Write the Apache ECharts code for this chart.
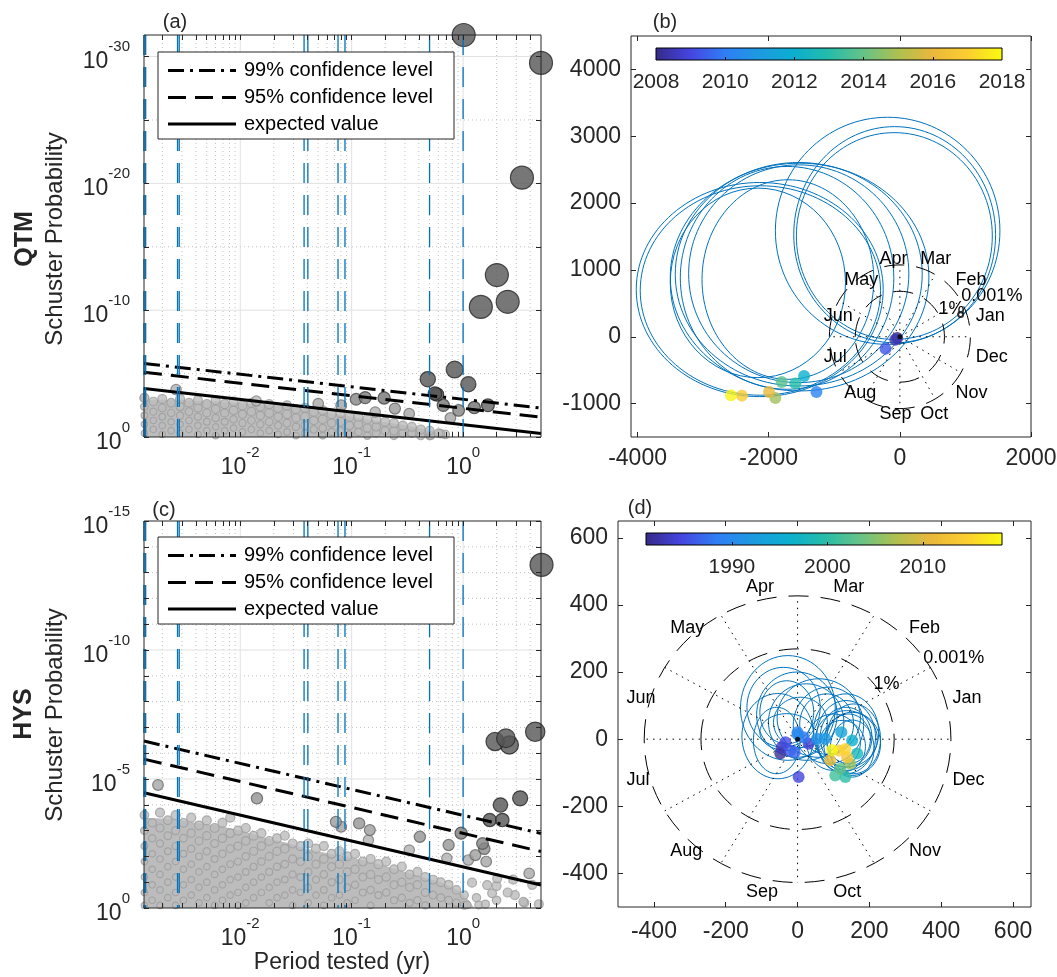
<!DOCTYPE html>
<html>
<head>
<meta charset="utf-8">
<script src="https://cdn.jsdelivr.net/npm/echarts@6.0.0/dist/echarts.min.js"></script>
<style>html,body{margin:0;padding:0;background:#fff;}#chart{width:1057px;height:977px;}</style>
</head>
<body>
<div id="chart"></div>
<script>
// ================= DATA =================
// (a),(c): x = log10(period tested, yr); y = -log10(Schuster probability)
const tidalPeriodsYr = [0.001369, 0.001417, 0.002738, 0.002834, 0.0374, 0.04044, 0.07543, 0.08709, 0.5, 1.0];
const logPeriodRange = [-2.8636, 0.699];
const qtmExpRange = [0, 31.7];
const hysExpRange = [0, 15];

const qtmExpected = [[-2.8636, 3.82], [0.699, 0.27]];
const qtm95 = [[-2.8636, 5.10], [0.699, 1.57]];
const qtm99 = [[-2.8636, 5.80], [0.699, 2.28]];
const hysExpected = [[-2.8636, 4.47], [0.699, 0.89]];
const hys95 = [[-2.8636, 5.77], [0.699, 2.19]];
const hys99 = [[-2.8636, 6.47], [0.699, 2.89]];

// upper edge of the dense cloud of non-significant periods
const qtmCloudTop = [[-2.8636,2.9],[-2.5,2.9],[-2.2,2.8],[-1.9,2.6],[-1.6,2.4],[-1.4,2.2],[-1.2,1.9],[-1.0,1.6],[-0.8,1.3],[-0.6,1.05],[-0.45,0.8],[-0.3,0.5],[-0.2,0.2],[-0.15,0]];
const hysCloudTop = [[-2.8636,3.5],[-2.6,3.45],[-2.4,3.3],[-2.2,3.2],[-2.0,3.0],[-1.8,2.75],[-1.6,2.55],[-1.4,2.3],[-1.2,2.1],[-1.0,1.95],[-0.8,1.75],[-0.6,1.5],[-0.4,1.25],[-0.2,1.0],[-0.05,0.7],[0.05,0.3],[0.1,0]];

// cloud points, by column: [log10 period, [exponents]]
const qtmCloudColumns = [
[-2.86,[3.1,2.4,1.7,1.0,0.3]],[-2.78,[2.8,2.0,1.3,0.6]],[-2.70,[3.0,2.3,1.6,0.9,0.2]],[-2.62,[2.7,1.9,1.2,0.5]],
[-2.54,[3.0,2.4,1.7,1.0,0.3]],[-2.46,[2.7,2.0,1.3,0.6]],[-2.38,[2.9,2.3,1.6,0.9,0.2]],[-2.30,[2.6,1.9,1.2,0.5]],
[-2.22,[2.9,2.2,1.5,0.8,0.1]],[-2.14,[2.6,1.9,1.2,0.5]],[-2.06,[2.8,2.1,1.4,0.7]],[-1.98,[2.5,1.8,1.1,0.4]],
[-1.90,[2.7,2.0,1.3,0.6]],[-1.82,[2.4,1.7,1.0,0.3]],[-1.74,[2.6,1.9,1.2,0.5]],[-1.66,[2.3,1.6,0.9,0.2]],
[-1.58,[2.5,1.8,1.1,0.4]],[-1.50,[2.2,1.5,0.8,0.1]],[-1.42,[2.3,1.6,0.9,0.3]],[-1.34,[2.0,1.3,0.6]],
[-1.26,[2.1,1.4,0.7,0.1]],[-1.18,[1.8,1.1,0.4]],[-1.10,[1.9,1.2,0.5]],[-1.02,[1.6,0.9,0.2]],
[-0.94,[1.6,1.0,0.4]],[-0.86,[1.4,0.7,0.1]],[-0.78,[1.4,0.8,0.3]],[-0.70,[1.2,0.5]],
[-0.62,[1.1,0.5,0.1]],[-0.54,[0.9,0.3]],[-0.46,[0.8,0.3]],[-0.38,[0.6,0.1]],
[-0.30,[0.5,0.1]],[-0.22,[0.3]],[-0.16,[0.2]]
];
const hysCloudColumns = [
[-2.86,[3.6,3.0,2.4,1.8,1.2,0.6,0.1]],[-2.79,[3.3,2.7,2.1,1.5,0.9,0.3]],[-2.72,[3.7,3.1,2.5,1.9,1.3,0.7,0.1]],
[-2.65,[3.4,2.8,2.2,1.6,1.0,0.4]],[-2.58,[3.6,3.0,2.4,1.8,1.2,0.6,0.1]],[-2.51,[3.3,2.7,2.1,1.5,0.9,0.3]],
[-2.44,[3.5,2.9,2.3,1.7,1.1,0.5]],[-2.37,[3.2,2.6,2.0,1.4,0.8,0.2]],[-2.30,[3.4,2.8,2.2,1.6,1.0,0.4]],
[-2.23,[3.1,2.5,1.9,1.3,0.7,0.1]],[-2.16,[3.3,2.7,2.1,1.5,0.9,0.3]],[-2.09,[3.5,2.9,2.3,1.7,1.1,0.5]],
[-2.02,[3.0,2.4,1.8,1.2,0.6,0.1]],[-1.95,[3.1,2.6,2.0,1.4,0.8,0.2]],[-1.88,[2.8,2.2,1.6,1.0,0.4]],
[-1.81,[2.9,2.4,1.8,1.2,0.6]],[-1.74,[2.6,2.0,1.4,0.8,0.2]],[-1.67,[2.7,2.2,1.6,1.0,0.4]],
[-1.60,[2.8,2.3,1.7,1.1,0.5]],[-1.53,[2.5,1.9,1.3,0.7,0.1]],[-1.46,[2.4,1.8,1.2,0.6]],
[-1.39,[2.5,2.0,1.4,0.8,0.2]],[-1.32,[2.3,1.7,1.1,0.5]],[-1.25,[2.4,1.9,1.3,0.7,0.1]],
[-1.18,[2.1,1.6,1.0,0.4]],[-1.11,[2.2,1.7,1.1,0.5]],[-1.04,[2.0,1.4,0.8,0.2]],
[-0.97,[2.1,1.5,0.9,0.3]],[-0.90,[1.8,1.2,0.6]],[-0.83,[1.9,1.3,0.7,0.1]],
[-0.76,[1.7,1.1,0.5]],[-0.69,[1.8,1.2,0.6]],[-0.62,[1.5,0.9,0.3]],
[-0.55,[1.6,1.0,0.4]],[-0.48,[1.3,0.8,0.2]],[-0.41,[1.4,0.9,0.3]],
[-0.34,[1.2,0.6,0.1]],[-0.27,[1.1,0.5]],[-0.20,[1.0,0.4]],
[-0.13,[0.9,0.3]],[-0.06,[0.7,0.2]],[0.01,[0.5,0.1]],
[0.12,[0.4]],[0.20,[0.15]],[0.30,[0.85,0.3]],[0.40,[0.6]],[0.45,[1.1]],[0.55,[0.2]],[0.62,[0.9]],[0.68,[0.15]]
];
// individually readable periods (above the cloud)
const qtmNotable = [
[0.005,31.7],[0.699,29.5],[0.528,20.45],[0.303,12.77],[0.159,10.26],[0.40,10.66],
[-0.076,5.32],[-0.317,4.56],[0.047,4.16],[-0.253,3.42],[-0.235,3.35],[-0.178,2.5],[0.223,2.5],[0.10,2.32],
[-0.96,2.98],[-0.879,3.11],[-0.709,3.08],
[-2.576,3.74],[-2.86,3.08],[-1.856,2.84],[-1.30,2.63],[-1.094,2.5],[-0.612,2.24],[-0.484,1.84],
[-0.789,1.97],[-0.114,1.5],[-0.04,2.1],[-0.204,0.27],[-0.29,0.13]
];
const hysNotable = [
[0.704,13.3],[0.647,6.83],[0.287,6.45],[0.384,6.58],[0.415,6.32],[0.512,4.25],[0.335,3.99],
[0.239,3.41],[0.352,3.41],[-0.018,2.9],[0.174,2.5],[0.19,2.3],[-0.388,2.76],[-0.933,3.28],
[-0.837,3.02],[-1.142,3.34],[-1.094,3.15],[-1.85,4.25],[-2.738,4.77],[-0.85,2.63],[-0.483,2.25],
[-0.146,1.93],[0.047,1.86],[0.11,2.05],[0.207,1.8],[0.593,1.34],[-0.13,2.44],[0.306,1.15],
[0.216,0.89],[0.08,0.98],[0.26,0.57],[0.464,0.5],[0.54,0.24],[0.14,0.12],[0.036,0.12]
];

// (b),(d): phasor walks. Yearly loops [cx, cy, rx, ry] and year-end positions
const qtmLoops = [
[-186,1585,1712,1699],[-79,1527,1539,1617],[-84,1507,1494,1547],[-1529,893,1972,1704],
[-1542,935,1883,1672],[-1542,943,1679,1629],[-1707,856,1310,1493],[-2137,706,1883,1602],
[-2127,692,1832,1567],[-2165,806,1336,1418],[-1720,881,1628,1667]
];
const qtmDots = [[-40,-20],[-70,-45],[-219,-179],[-1272,-826],[-1461,-587],[-1593,-701],[-1802,-677],[-1898,-915],[-1995,-826],[-2407,-881],[-2575,-876]];
const qtmDotYears = [2008.0,2008.5,2009.3,2010.2,2012.0,2013.0,2013.8,2014.8,2016.0,2016.8,2017.8];
const qtmMarker = [927, 333];

const hysLoops = [
[-27,93,132,156],[-39,95,102,119],[-2,73,112,127],[-30,80,75,94],[24,51,105,114],[8,50,75,75],
[-58,-4,65,99],[-30,21,75,55],[-55,9,100,127],[59,63,116,117],[86,41,98,114],[81,45,75,90],
[135,21,91,114],[135,6,82,109],[135,6,72,89],[152,-14,79,94],[142,1,61,74],[124,-21,65,77],
[136,1,86,84],[156,1,75,104],[100,-9,75,84],[152,-28,61,85]
];
const hysDots = [[-48,-43],[31,-14],[-44,-24],[3,-113],[-34,-9],[-20,-34],[-8,-39],[17,6],[0,21],[0,14],[54,1],[77,1],[122,21],[152,-4],[166,-43],[133,-113],[105,-108],[119,-88],[147,-73],[91,-63],[138,-54],[115,-34],[133,-29],[96,-32]];
const hysDotYears = [1981.5,1984,1983,1984.5,1985,1986,1987,1988,1989,1990,1991,1992,1994,1996,1998,2000,2001,2003,2006,2012,2013,2014,2015,2017.8];

const qtmYearRange = [2008, 2018];
const hysYearRange = [1981, 2018.3];
const qtmCbLabels = [2008,2010,2012,2014,2016,2018];
const hysCbLabels = [1990,2000,2010];

const months = ['Jan','Feb','Mar','Apr','May','Jun','Jul','Aug','Sep','Oct','Nov','Dec'];
const qtmClock = {r1:680, r2:1075, labelR:1200};   // 1% and 0.001% radii
const hysClock = {r1:269, r2:427, labelR:470};

const legendItems = [
  {label:'99% confidence level', dash:[16,6,3,6]},
  {label:'95% confidence level', dash:[18,9]},
  {label:'expected value', dash:null}
];

// ================= STYLE / HELPERS =================
const FONT = "'Liberation Sans', Arial, Helvetica, sans-serif";
const TXT = '#262626';
const parulaStops = ['#352a87','#4545e0','#2f7ef5','#1d9ae0','#0bafcf','#26bcaa','#66c387','#aec050','#eab83b','#fcce31','#f9fb0e'];
function hex2rgb(h){return [1,3,5].map(i=>parseInt(h.substr(i,2),16));}
function parula(t){
  t=Math.max(0,Math.min(1,t)); const n=parulaStops.length-1;
  const i=Math.min(n-1,Math.floor(t*n)); const f=t*n-i;
  const a=hex2rgb(parulaStops[i]), b=hex2rgb(parulaStops[i+1]);
  return 'rgb('+a.map((v,k)=>Math.round(v+(b[k]-v)*f)).join(',')+')';
}
function expectedAt(line,x){const a=line[0],b=line[1];return a[1]+(b[1]-a[1])*(x-a[0])/(b[0]-a[0]);}
function g2hex(g){const h=Math.round(g).toString(16).padStart(2,'0');return '#'+h+h+h;}
function expand(cols){return cols.flatMap(c=>c[1].map(y=>[c[0],y]));}
function scatterItems(points,line){
  return points.map(p=>{
    const rel=p[1]-expectedAt(line,p[0]); let size,fill,edge;
    if(rel<=0){size=Math.max(6.5,Math.min(9,10+1.6*rel));fill='#bbbbbb';edge='#9e9e9e';}
    else{size=Math.min(23,10+1.6*rel);const g=Math.max(85,186-50*rel);fill=g2hex(g);edge=g2hex(Math.max(38,g-55));}
    return {value:[p[0],p[1]],symbolSize:size,itemStyle:{color:fill,borderColor:edge,borderWidth:1.2},rel};
  }).sort((a,b)=>a.rel-b.rel).map(o=>{delete o.rel;return o;});
}
const xMajorLog=[-2,-1,0];
const xMinorLog=[];
[-3,-2,-1,0].forEach(n=>{for(let k=2;k<=9;k++){const v=n+Math.log10(k);if(v>logPeriodRange[0]+1e-3&&v<logPeriodRange[1]-1e-3)xMinorLog.push(v);}});
const logRich={
  b:{fontSize:23,fontFamily:FONT,color:TXT,lineHeight:34,verticalAlign:'bottom'},
  s:{fontSize:15,fontFamily:FONT,color:TXT,lineHeight:14,verticalAlign:'top'}
};
const fmtX=v=>'{b|10}{s|'+Math.round(v)+'}';
const fmtY=v=>'{b|10}{s|'+(Math.round(v)===0?'0':'-'+Math.round(v))+'}';
const fmtPlain=v=>String(Math.round(v));
const noLine={show:false,onZero:false};

function xPair(g,min,max,ticks,labels,fmt,rich,margin,fs){
  const base={gridIndex:g,type:'value',min,max,z:6,axisLine:noLine,splitLine:{show:false},minorSplitLine:{show:false}};
  return [
    Object.assign({},base,{position:'bottom',axisTick:{show:true,inside:true,length:5,customValues:ticks,lineStyle:{color:TXT}},
      axisLabel:{show:true,customValues:labels,formatter:fmt,rich:rich,color:TXT,fontSize:fs||23,fontFamily:FONT,margin:margin}}),
    Object.assign({},base,{position:'top',axisTick:{show:true,inside:true,length:5,customValues:ticks,lineStyle:{color:TXT}},axisLabel:{show:false}})
  ];
}
function yPair(g,min,max,ticks,labels,fmt,rich,margin){
  const base={gridIndex:g,type:'value',min,max,z:6,axisLine:noLine,splitLine:{show:false},minorSplitLine:{show:false}};
  return [
    Object.assign({},base,{position:'left',axisTick:{show:true,inside:true,length:5,customValues:ticks,lineStyle:{color:TXT}},
      axisLabel:{show:true,customValues:labels,formatter:fmt,rich:rich,color:TXT,fontSize:23,fontFamily:FONT,margin:margin}}),
    Object.assign({},base,{position:'right',axisTick:{show:true,inside:true,length:5,customValues:ticks,lineStyle:{color:TXT}},axisLabel:{show:false}})
  ];
}
function range(a,b,s){const r=[];for(let v=a;v<=b+1e-9;v+=s)r.push(Math.round(v*1000)/1000);return r;}

function gridSeries(ax,yMajor,yMinor){
  return {type:'custom',xAxisIndex:ax,yAxisIndex:ax,z:0,silent:true,clip:false,data:[[0,0]],
    renderItem:(params,api)=>{
      const cs=params.coordSys,ch=[];
      const minor={stroke:'#c2c2c2',lineWidth:1,lineDash:[1,3]},major={stroke:'#e1e1e1',lineWidth:1};
      xMinorLog.forEach(v=>{const x=api.coord([v,0])[0];ch.push({type:'line',shape:{x1:x,y1:cs.y,x2:x,y2:cs.y+cs.height},style:minor});});
      yMinor.forEach(v=>{const y=api.coord([0,v])[1];ch.push({type:'line',shape:{x1:cs.x,y1:y,x2:cs.x+cs.width,y2:y},style:minor});});
      xMajorLog.forEach(v=>{const x=api.coord([v,0])[0];ch.push({type:'line',shape:{x1:x,y1:cs.y,x2:x,y2:cs.y+cs.height},style:major});});
      yMajor.forEach(v=>{const y=api.coord([0,v])[1];ch.push({type:'line',shape:{x1:cs.x,y1:y,x2:cs.x+cs.width,y2:y},style:major});});
      return {type:'group',children:ch};
    }};
}
function tidalSeries(ax){
  return {type:'custom',xAxisIndex:ax,yAxisIndex:ax,z:4,silent:true,clip:false,data:[[0,0]],
    renderItem:(params,api)=>{
      const cs=params.coordSys;
      return {type:'group',children:tidalPeriodsYr.map(p=>{
        const x=api.coord([Math.log10(p),0])[0];
        return {type:'line',shape:{x1:x,y1:cs.y,x2:x,y2:cs.y+cs.height},style:{stroke:'#0072BD',lineWidth:1.3,lineDash:[20,12]}};
      })};
    }};
}
function envelopeSeries(ax,data){
  return {type:'line',xAxisIndex:ax,yAxisIndex:ax,data,symbol:'none',silent:true,z:1,
    lineStyle:{width:0,color:'#bcbcbc'},areaStyle:{color:'#bcbcbc',opacity:1}};
}
function thresholdSeries(ax,data,dash){
  return {type:'line',xAxisIndex:ax,yAxisIndex:ax,data,symbol:'none',silent:true,z:3,
    lineStyle:{color:'#000',width:3,type:dash||'solid'}};
}
function scatterSeries(ax,items){
  return {type:'scatter',xAxisIndex:ax,yAxisIndex:ax,data:items,silent:true,z:2,clip:false,symbol:'circle'};
}
function loopsSeries(ax,loops){
  return {type:'custom',xAxisIndex:ax,yAxisIndex:ax,z:2,silent:true,clip:false,data:[[0,0]],
    renderItem:(params,api)=>({type:'group',children:loops.map(l=>{
      const c=api.coord([l[0],l[1]]);const s=api.size([2*l[2],2*l[3]]);
      return {type:'ellipse',shape:{cx:c[0],cy:c[1],rx:s[0]/2,ry:s[1]/2},style:{fill:'none',stroke:'#0072BD',lineWidth:1}};
    })})};
}
function clockSeries(ax,clk,labelDx){
  return {type:'custom',xAxisIndex:ax,yAxisIndex:ax,z:3,silent:true,clip:false,data:[[0,0]],
    renderItem:(params,api)=>{
      const c=api.coord([0,0]),ch=[];
      for(let k=0;k<12;k++){const a=k*Math.PI/6;const p=api.coord([clk.r2*Math.cos(a),clk.r2*Math.sin(a)]);
        ch.push({type:'line',shape:{x1:c[0],y1:c[1],x2:p[0],y2:p[1]},style:{stroke:'#000',lineWidth:1,lineDash:[1.5,5]}});}
      [clk.r1,clk.r2].forEach(r=>{const s=api.size([2*r,2*r]);
        ch.push({type:'ellipse',shape:{cx:c[0],cy:c[1],rx:s[0]/2,ry:s[1]/2},style:{fill:'none',stroke:'#000',lineWidth:1,lineDash:[20,12]}});});
      months.forEach((m,k)=>{const a=(15+30*k)*Math.PI/180;const p=api.coord([clk.labelR*Math.cos(a),clk.labelR*Math.sin(a)]);
        ch.push({type:'text',x:p[0]+labelDx,y:p[1],style:{text:m,fill:'#000',fontSize:18,fontFamily:FONT,align:'left',verticalAlign:'middle'}});});
      [['1%',clk.r1*1.06,35],['0.001%',clk.r2*1.04,33]].forEach(t=>{const a=t[2]*Math.PI/180;const p=api.coord([t[1]*Math.cos(a),t[1]*Math.sin(a)]);
        ch.push({type:'text',x:p[0]+labelDx,y:p[1],style:{text:t[0],fill:'#000',fontSize:18,fontFamily:FONT,align:'left',verticalAlign:'middle'}});});
      return {type:'group',children:ch};
    }};
}
function dotsSeries(ax,dots,years,yr){
  return {type:'scatter',xAxisIndex:ax,yAxisIndex:ax,z:4,silent:true,clip:false,symbolSize:12,
    data:dots.map((d,i)=>({value:d,itemStyle:{color:parula((years[i]-yr[0])/(yr[1]-yr[0]))}})).map((o,i)=>({o,y:years[i]})).sort((a,b)=>a.y-b.y).map(x=>x.o)};
}
function originSeries(ax){
  return {type:'scatter',xAxisIndex:ax,yAxisIndex:ax,z:5,silent:true,symbolSize:5,data:[[0,0]],itemStyle:{color:'#000'}};
}
function colorbarSeries(ax,yr){
  return {type:'custom',xAxisIndex:ax,yAxisIndex:ax,z:1,silent:true,clip:false,data:[[yr[0],0]],
    renderItem:(params,api)=>{
      const p0=api.coord([yr[0],1]),p1=api.coord([yr[1],0]);
      const stops=parulaStops.map((c,i)=>({offset:i/(parulaStops.length-1),color:c}));
      return {type:'rect',shape:{x:p0[0],y:p0[1],width:p1[0]-p0[0],height:p1[1]-p0[1]},
        style:{fill:new echarts.graphic.LinearGradient(0,0,1,0,stops),stroke:'#000',lineWidth:1}};
    }};
}

// ================= LAYOUT =================
const gridBase={show:true,z:10,backgroundColor:'rgba(0,0,0,0)',borderColor:TXT,borderWidth:1,containLabel:false,outerBoundsMode:'none'};
const grids=[
  Object.assign({},gridBase,{left:144,top:35,width:397,height:402}),   // a
  Object.assign({},gridBase,{left:631,top:36,width:400,height:401}),   // b
  Object.assign({},gridBase,{left:144,top:521,width:397,height:387}),  // c
  Object.assign({},gridBase,{left:618,top:521,width:413,height:386}),  // d
  {show:false,left:656,top:48,width:346,height:12,outerBoundsMode:'none'},  // colorbar b
  {show:false,left:646,top:533,width:356,height:12,outerBoundsMode:'none'}  // colorbar d
];
const xTicksLog=xMajorLog.concat(xMinorLog);
const xAxes=[].concat(
  xPair(0,logPeriodRange[0],logPeriodRange[1],xTicksLog,xMajorLog,fmtX,logRich,8),
  xPair(1,-4100,2000,[-4000,-2000,0,2000],[-4000,-2000,0,2000],fmtPlain,null,10),
  xPair(2,logPeriodRange[0],logPeriodRange[1],xTicksLog,xMajorLog,fmtX,logRich,8),
  xPair(3,-500,650,range(-400,600,200),range(-400,600,200),fmtPlain,null,13),
  [{gridIndex:4,type:'value',min:qtmYearRange[0],max:qtmYearRange[1],position:'bottom',z:6,axisLine:noLine,splitLine:{show:false},
    axisTick:{show:true,inside:true,length:3,customValues:[2010,2012,2014,2016],lineStyle:{color:'#000'}},
    axisLabel:{customValues:qtmCbLabels,formatter:fmtPlain,color:TXT,fontSize:21,fontFamily:FONT,margin:12}},
   {gridIndex:5,type:'value',min:hysYearRange[0],max:hysYearRange[1],position:'bottom',z:6,axisLine:noLine,splitLine:{show:false},
    axisTick:{show:true,inside:true,length:3,customValues:hysCbLabels,lineStyle:{color:'#000'}},
    axisLabel:{customValues:hysCbLabels,formatter:fmtPlain,color:TXT,fontSize:21,fontFamily:FONT,margin:12}}]
);
const yAxes=[].concat(
  yPair(0,qtmExpRange[0],qtmExpRange[1],range(0,30,5),[0,10,20,30],fmtY,logRich,14),
  yPair(1,-1500,4500,range(-1000,4000,1000),range(-1000,4000,1000),fmtPlain,null,10),
  yPair(2,hysExpRange[0],hysExpRange[1],range(0,15,1),[0,5,10,15],fmtY,logRich,14),
  yPair(3,-500,650,range(-400,600,200),range(-400,600,200),fmtPlain,null,10),
  [{gridIndex:4,type:'value',min:0,max:1,show:false,axisLine:noLine},{gridIndex:5,type:'value',min:0,max:1,show:false,axisLine:noLine}]
);
// axis index: a=0, b=2, c=4, d=6, cbB=8, cbD=9 (x and y use same index)
const A=0,B=2,C=4,D=6;

const series=[
  gridSeries(A,[10,20,30],[5,15,25]),
  envelopeSeries(A,qtmCloudTop),
  scatterSeries(A,scatterItems(expand(qtmCloudColumns).concat(qtmNotable),qtmExpected)),
  thresholdSeries(A,qtmExpected,null),thresholdSeries(A,qtm95,[18,9]),thresholdSeries(A,qtm99,[16,6,3,6]),
  tidalSeries(A),

  gridSeries(C,[5,10],[1,2,3,4,6,7,8,9,11,12,13,14]),
  envelopeSeries(C,hysCloudTop),
  scatterSeries(C,scatterItems(expand(hysCloudColumns).concat(hysNotable),hysExpected)),
  thresholdSeries(C,hysExpected,null),thresholdSeries(C,hys95,[18,9]),thresholdSeries(C,hys99,[16,6,3,6]),
  tidalSeries(C),

  loopsSeries(B,qtmLoops),clockSeries(B,qtmClock,0),dotsSeries(B,qtmDots,qtmDotYears,qtmYearRange),originSeries(B),
  {type:'scatter',xAxisIndex:B,yAxisIndex:B,z:5,silent:true,symbol:'emptyCircle',symbolSize:5,data:[qtmMarker],itemStyle:{color:'#000',borderWidth:1}},
  loopsSeries(D,hysLoops),clockSeries(D,hysClock,-8),dotsSeries(D,hysDots,hysDotYears,hysYearRange),originSeries(D),

  colorbarSeries(8,qtmYearRange),colorbarSeries(9,hysYearRange)
];

// ================= TEXT / LEGEND =================
const graphics=[];
function addText(text,x,y,o){graphics.push({type:'text',x,y,rotation:o.rot||0,z:100,
  style:{text,fill:o.fill||TXT,fontFamily:FONT,fontSize:o.size,fontWeight:o.weight||'normal',align:o.align||'center',verticalAlign:'middle'}});}
function addLegend(bx,by){
  graphics.push({type:'rect',z:100,shape:{x:bx,y:by,width:296,height:87},style:{fill:'#fff',stroke:TXT,lineWidth:1}});
  const rows=[18.5,45.5,72];
  legendItems.forEach((it,i)=>{const y=by+rows[i];
    graphics.push({type:'line',z:101,shape:{x1:bx+10,y1:y,x2:bx+78,y2:y},style:{stroke:'#000',lineWidth:3,lineDash:it.dash||null}});
    graphics.push({type:'text',z:101,x:bx+86,y:y,style:{text:it.label,fill:'#000',fontFamily:FONT,fontSize:20,align:'left',verticalAlign:'middle'}});
  });
}
addLegend(158,52);
addLegend(158,537);
addText('(a)',175,22,{size:20});
addText('(b)',665,22,{size:20});
addText('(c)',164,510,{size:20});
addText('(d)',640,508,{size:20});
addText('QTM',25,239,{size:25,weight:'bold',rot:Math.PI/2});
addText('Schuster Probability',55,239,{size:24,rot:Math.PI/2});
addText('HYS',24,714,{size:25,weight:'bold',rot:Math.PI/2});
addText('Schuster Probability',55,715,{size:24,rot:Math.PI/2});
addText('Period tested (yr)',342,963,{size:23});

const chart=echarts.init(document.getElementById('chart'),null,{renderer:'canvas',width:1057,height:977});
chart.setOption({
  animation:false,
  backgroundColor:'#fff',
  textStyle:{fontFamily:FONT},
  grid:grids,xAxis:xAxes,yAxis:yAxes,series:series,
  graphic:{elements:graphics}
});
</script>
</body>
</html>
